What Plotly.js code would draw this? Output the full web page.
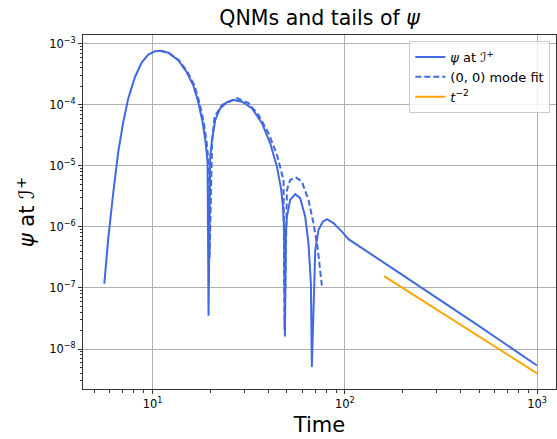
<!DOCTYPE html>
<html>
<head>
<meta charset="utf-8">
<script src="https://cdn.plot.ly/plotly-3.0.1.min.js"></script>
<style>html,body{margin:0;padding:0;background:#fff;}#chart{width:557px;height:439px;}</style>
</head>
<body>
<div id="chart"></div>
<script>
// ψ at scri+
const tPsi = [5.61, 5.88, 6.25, 6.63, 7.04, 7.47, 8.10, 8.77, 9.50, 10.29, 10.93, 12.07, 13.6, 15.03, 16.28, 17.28, 18.2, 18.86, 19.32, 19.55,
  19.95, 20.37, 21.19, 22.5, 24.37, 26.38, 29.17, 32.88, 37.06, 40.93, 44.36, 46.7, 47.6, 48.3, 48.8,
  49.4, 50.0, 52.0, 55.2, 58.6, 62.2, 64.7, 66.6, 67.4,
  70.2, 73.0, 76.9, 80.7, 87.3, 96.6, 104.5, 115.6, 200, 500, 1000];
const psi = [1.18e-7, 6.44e-7, 3.74e-6, 1.69e-5, 5.23e-5, 1.26e-4, 2.85e-4, 4.89e-4, 6.61e-4, 7.51e-4, 7.68e-4, 7.12e-4, 5.35e-4, 3.44e-4, 2.08e-4, 1.11e-4, 5.23e-5, 2.46e-5, 1.16e-5, 3.49e-8,
  1.40e-5, 2.65e-5, 5.64e-5, 8.77e-5, 1.10e-4, 1.20e-4, 1.12e-4, 8.77e-5, 4.98e-5, 2.34e-5, 9.7e-6, 4.04e-6, 2.3e-6, 1.0e-6, 1.60e-8,
  8.0e-7, 1.48e-6, 2.77e-6, 3.43e-6, 2.95e-6, 1.48e-6, 5.41e-7, 1.20e-7, 5.06e-9,
  4.21e-7, 8.93e-7, 1.22e-6, 1.34e-6, 1.15e-6, 8.38e-7, 6.29e-7, 5.07e-7, 1.62e-7, 2.37e-8, 5.37e-9];
// (0,0) mode fit
const tFit = [10.93, 12.1, 13.7, 15.2, 16.5, 17.5, 18.45, 19.1, 19.55, 19.8, 20.4, 21.01, 22.95, 27.5, 31.56, 35.58, 40.11, 44.36, 48.0, 48.6,
  50.0, 52.0, 55.9, 59.8, 64.7, 68.7, 72.1, 76.0];
const fit = [7.68e-4, 7.12e-4, 5.35e-4, 3.44e-4, 2.08e-4, 1.11e-4, 5.23e-5, 2.46e-5, 1.16e-5, 3.11e-7, 2.5e-5, 6.38e-5, 9.93e-5, 1.28e-4, 1.06e-4, 6.81e-5, 3.42e-5, 1.51e-5, 5.88e-6, 2.06e-8,
  4.04e-6, 5.88e-6, 6.41e-6, 5.51e-6, 2.77e-6, 1.15e-6, 4.76e-7, 1.08e-7];
// t^-2 reference tail
const tTail = [160, 1000];
const tail = [1.56e-7, 4.0e-9];

const xTickVals = [10, 100, 1000];
const xTickText = ['10<sup>1</sup>', '10<sup>2</sup>', '10<sup>3</sup>'];
const yTickVals = [1e-8, 1e-7, 1e-6, 1e-5, 1e-4, 1e-3];
const yTickText = ['10<sup>−8</sup>', '10<sup>−7</sup>', '10<sup>−6</sup>', '10<sup>−5</sup>', '10<sup>−4</sup>', '10<sup>−3</sup>'];

function minorTicks(lo, hi) {
  const v = [];
  for (let e = lo; e <= hi; e++) for (let m = 2; m <= 9; m++) v.push(m * Math.pow(10, e));
  return v;
}

const FONT = 'DejaVu Sans, sans-serif';
const traces = [
  {x: tPsi, y: psi, mode: 'lines', name: '<i>ψ</i> at ℐ<sup>+</sup>', legendgroup: 'a',
   line: {color: '#4169E1', width: 2}},
  {x: tFit, y: fit, mode: 'lines', name: '(0, 0) mode fit', legendgroup: 'b',
   line: {color: '#4169E1', width: 2, dash: '6px,3px'}},
  {x: tTail, y: tail, mode: 'lines', name: '<i>t</i><sup>−2</sup>', legendgroup: 'c',
   line: {color: '#FFA500', width: 2}}
];

const axisCommon = {
  type: 'log', showline: true, mirror: true, linecolor: '#333', linewidth: 1,
  gridcolor: '#b0b0b0', gridwidth: 1, zeroline: false,
  ticks: 'outside', ticklen: 4, tickcolor: '#333', tickwidth: 1,
  tickfont: {family: FONT, size: 11.5, color: '#000'},
  tickmode: 'array'
};

const layout = {
  width: 557, height: 439,
  margin: {l: 83, r: 1, t: 35, b: 50},
  paper_bgcolor: '#fff', plot_bgcolor: '#fff',
  font: {family: FONT, color: '#000'},
  title: {text: 'QNMs and tails of <i>ψ</i>', font: {family: FONT, size: 20.5, color: '#000'},
          x: 0.5, xref: 'paper', xanchor: 'center', y: 1 - 18 / 439, yref: 'container', yanchor: 'middle'},
  xaxis: Object.assign({}, axisCommon, {
    range: [0.638, 3.0988], tickvals: xTickVals, ticktext: xTickText,
    minor: {tickmode: 'array', tickvals: minorTicks(0, 3), ticks: 'outside', ticklen: 2.5, tickcolor: '#333', showgrid: false},
    title: {text: 'Time', font: {family: FONT, size: 21, color: '#000'}, standoff: 7}
  }),
  yaxis: Object.assign({}, axisCommon, {
    range: [-8.655, -2.858], tickvals: yTickVals, ticktext: yTickText,
    minor: {tickmode: 'array', tickvals: minorTicks(-9, -3), ticks: 'outside', ticklen: 2.5, tickcolor: '#333', showgrid: false},
    title: {text: '<i>ψ</i> at ℐ<sup>+</sup>', font: {family: FONT, size: 21, color: '#000'}, standoff: 8}
  }),
  showlegend: true,
  legend: {x: 0.988, y: 0.983, xanchor: 'right', yanchor: 'top',
           bgcolor: 'rgba(255,255,255,0.8)', bordercolor: '#cccccc', borderwidth: 1,
           font: {family: FONT, size: 13, color: '#000'}, tracegroupgap: 0}
};

Plotly.newPlot('chart', traces, layout, {staticPlot: true, displayModeBar: false});
</script>
</body>
</html>
